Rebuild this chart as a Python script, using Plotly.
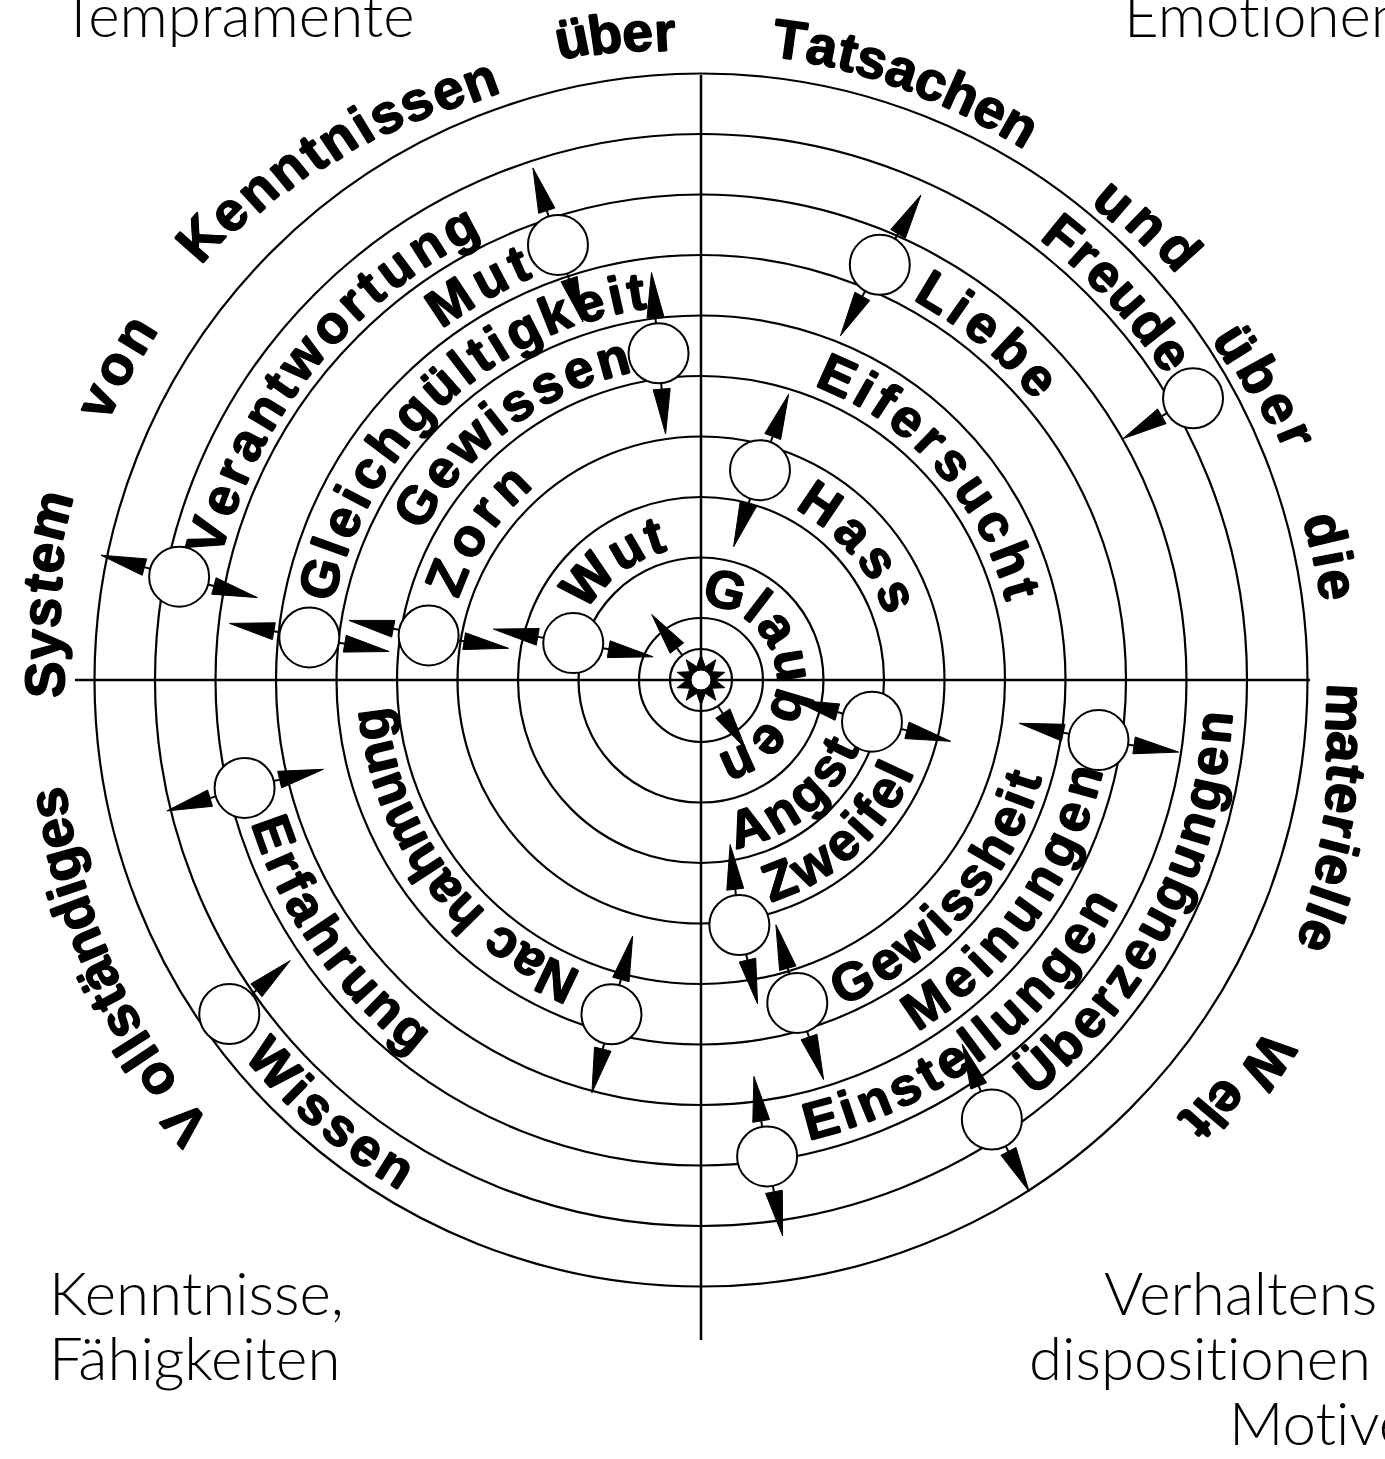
import math
import plotly.graph_objects as go

W, H = 1385, 1459
CX, CY = 701, 680

# ---------------- data ----------------
ring_radii = [31, 62, 122.5, 183, 243.5, 304, 364.5, 425, 485.5, 546, 606.5]
axis_h_extent = [-626, 609]
axis_v_extent = [-605, 660]

node_names = ["Mut", "Gewissen", "Liebe", "Freude", "Hass", "Verantwortung",
              "Gleichgültigkeit", "Zorn", "Wut", "Angst", "Meinungen", "Zweifel",
              "Gewissheit", "Nachahmung", "Einstellungen", "Überzeugungen",
              "Erfahrung", "Wissen"]
node_r = [458, 329.5, 452, 567, 218, 532, 394, 276, 133, 176, 402, 248,
          337, 346, 481, 527, 469, 578]
node_theta = [341.8, 352.6, 23.3, 60.2, 15.7, 281.2, 276.2, 279.3, 286.1, 103.7,
              98.6, 171.1, 163.4, 195, 172.1, 146.5, 256.7, 234.7]
node_arrows = [[-18, 162], [-5, 175], [30.5, 209], [240], [20.7, 199],
               [-74.6, 105], [-80, 100], [-79.3, 99.2], [-80, 99.7],
               [-74.5, 104], [-78, 98.5], [-6.6, 167], [-15.3, 161],
               [15.2, 194], [-9.4, 169], [-21.5, 152.6], [253.5, 76.7], [48.8]]
center_arrows = [-37, 147]

# curved labels: text, start radius, start bearing, end radius, end bearing, direction
label_text = ["Verantwortung", "Mut", "Gleichgültigkeit", "Gewissen", "Zorn", "Wut",
              "Liebe", "Eifersucht", "Hass", "Freude", "Glauben",
              "Angst", "Zweifel", "Gewissheit", "Meinungen", "Einstellungen",
              "Überzeugungen", "Nac hahmung", "Erfahrung", "Wissen"]
label_r0 = [514, 455, 394, 334, 274, 152, 454, 334, 214, 574, 94,
            154, 214, 336, 394, 454, 514, 334, 454, 574]
label_t0 = [286.3, 326.4, 284.9, 301.7, 291.9, 311.4, 31.1, 24.2, 34.2, 39.1, 14.8,
            162.4, 158.7, 153.3, 145.4, 164.8, 139.4, 205.6, 250.2, 228.1]
label_r1 = label_r0
label_t1 = [331.9, 336.3, 350.5, 344.5, 315.6, 341.8, 48.2, 74.2, 66.5, 55.2, 156,
            116, 115, 107.4, 105, 120, 95.3, 262.3, 219.5, 212.1]
label_dir = ["cw"] * 11 + ["ccw"] * 6 + ["cw", "ccw", "ccw"]

outer_text = ["V ollständiges", "System", "von", "Kenntnissen", "über", "Tatsachen",
              "und", "über", "die", "materielle", "W elt"]
outer_r0 = [680, 656, 666, 668, 655, 646, 634, 632, 642, 645, 684]
outer_t0 = [229.3, 270, 294.8, 311.4, 348.6, 7.9, 40.8, 57.8, 76.5, 92.5, 123.9]
outer_r1 = [664, 672, 664, 639, 649, 640, 644, 645, 644, 669, 665]
outer_t1 = [259.3, 284.2, 301.4, 339.8, 356.8, 29.9, 48.1, 67.6, 81.5, 112.6, 131.8]

corner_text = ["Tempramente", "Emotionen", "Kenntnisse,", "Fähigkeiten",
               "Verhaltens", "dispositionen", "Motive"]
corner_x = [59, 1122, 47, 47, 1102, 1027, 1227]
corner_baseline = [34, 34, 1312, 1377, 1312, 1377, 1442]

# ---------------- helpers ----------------
WIDTHS = {' ': 278, 'a': 556, 'b': 611, 'c': 556, 'd': 611, 'e': 556, 'f': 333,
          'g': 611, 'h': 611, 'i': 278, 'k': 556, 'l': 278, 'm': 889, 'n': 611,
          'o': 611, 'r': 389, 's': 556, 't': 333, 'u': 611, 'w': 778, 'z': 500,
          'ü': 611, 'ä': 556, 'y': 556, 'A': 722, 'E': 667, 'F': 611, 'G': 778,
          'H': 722, 'K': 722, 'L': 611, 'M': 833, 'N': 722, 'S': 667, 'T': 611,
          'V': 667, 'W': 944, 'Z': 611, 'Ü': 722}
TRACK = 70
LABEL_FONT = "Liberation Sans"
HEAVY = ("0.8px 0px 0px black, -0.8px 0px 0px black, "
         "0px 0.8px 0px black, 0px -0.8px 0px black")


def pol(r, th):
    a = math.radians(th)
    return CX + r * math.sin(a), CY - r * math.cos(a)


def norm(a):
    return (a + 180) % 360 - 180


annotations = []


def arc_text(text, r0, t0, r1, t1, direction, size):
    ws = [WIDTHS.get(c, 556) + TRACK for c in text]
    centers, acc = [], 0
    for w in ws:
        centers.append(acc + w / 2)
        acc += w
    a, b = centers[0], centers[-1]
    for c, s in zip(text, centers):
        if c == ' ':
            continue
        f = (s - a) / (b - a) if b > a else 0
        th = t0 + (t1 - t0) * f
        r = r0 + (r1 - r0) * f
        x, y = pol(r, th)
        ang = th if direction == "cw" else th - 180
        annotations.append(dict(
            x=x, y=y, xref="x", yref="y", text="<b>%s</b>" % c, showarrow=False,
            textangle=norm(ang), xanchor="center", yanchor="middle",
            font=dict(family=LABEL_FONT, size=size, color="black", shadow=HEAVY)))


for i in range(len(label_text)):
    arc_text(label_text[i], label_r0[i], label_t0[i], label_r1[i], label_t1[i],
             label_dir[i], 53)
for i in range(len(outer_text)):
    arc_text(outer_text[i], outer_r0[i], outer_t0[i], outer_r1[i], outer_t1[i],
             "cw", 55)

CORNER_SIZE = 60
for t, x, yb in zip(corner_text, corner_x, corner_baseline):
    shown = t.replace("ti", "t\u200ci")  # avoid the 'ti' ligature
    annotations.append(dict(
        x=x, y=yb - 0.33 * CORNER_SIZE, xref="x", yref="y", text=shown, showarrow=False,
        xanchor="left", yanchor="middle",
        font=dict(family="Lato", weight=300, size=CORNER_SIZE, color="black")))

shapes = []
LW = 2.2
for r in ring_radii:
    shapes.append(dict(type="circle", xref="x", yref="y", x0=CX - r, x1=CX + r,
                       y0=CY - r, y1=CY + r, line=dict(color="black", width=LW),
                       layer="below"))
shapes.append(dict(type="line", xref="x", yref="y", x0=CX + axis_h_extent[0],
                   x1=CX + axis_h_extent[1], y0=CY, y1=CY,
                   line=dict(color="black", width=2.5), layer="below"))
shapes.append(dict(type="line", xref="x", yref="y", x0=CX, x1=CX,
                   y0=CY + axis_v_extent[0], y1=CY + axis_v_extent[1],
                   line=dict(color="black", width=2.5), layer="below"))


def arrow(px, py, phi, d0=36, d1=81, hw=8.5, stem0=29):
    ux, uy = math.sin(math.radians(phi)), -math.cos(math.radians(phi))
    nx, ny = -uy, ux
    bx, by = px + d0 * ux, py + d0 * uy
    tx, ty = px + d1 * ux, py + d1 * uy
    path = "M %.1f,%.1f L %.1f,%.1f L %.1f,%.1f Z" % (
        bx + hw * nx, by + hw * ny, bx - hw * nx, by - hw * ny, tx, ty)
    shapes.append(dict(type="path", xref="x", yref="y", path=path,
                       fillcolor="black", line=dict(color="black", width=1),
                       layer="below"))
    shapes.append(dict(type="line", xref="x", yref="y",
                       x0=px + stem0 * ux, y0=py + stem0 * uy, x1=bx, y1=by,
                       line=dict(color="black", width=2), layer="below"))


node_x, node_y = [], []
for r, th, arrs in zip(node_r, node_theta, node_arrows):
    x, y = pol(r, th)
    node_x.append(x)
    node_y.append(y)
    for phi in arrs:
        arrow(x, y, phi)
for phi in center_arrows:
    arrow(CX, CY, phi, d0=40, d1=82, stem0=31)

# sun in the centre
pts = []
NPT = 10
for k in range(2 * NPT):
    rr = 25 if k % 2 == 0 else 14
    a = math.pi * k / NPT
    pts.append((CX + rr * math.sin(a), CY - rr * math.cos(a)))
sun_path = "M " + " L ".join("%.1f,%.1f" % p for p in pts) + " Z"
shapes.append(dict(type="path", xref="x", yref="y", path=sun_path,
                   fillcolor="black", line=dict(color="black", width=1), layer="below"))
shapes.append(dict(type="circle", xref="x", yref="y", x0=CX - 10, x1=CX + 10,
                   y0=CY - 10, y1=CY + 10, fillcolor="white",
                   line=dict(color="black", width=1), layer="below"))

fig = go.Figure()
fig.add_trace(go.Scatter(
    x=node_x, y=node_y, mode="markers", text=node_names, hoverinfo="text",
    marker=dict(size=60, color="white", line=dict(color="black", width=2)),
    showlegend=False))

fig.update_layout(
    width=W, height=H, margin=dict(l=0, r=0, t=0, b=0),
    paper_bgcolor="white", plot_bgcolor="white",
    xaxis=dict(range=[0, W], visible=False, fixedrange=True),
    yaxis=dict(range=[H, 0], visible=False, fixedrange=True),
    shapes=shapes, annotations=annotations, showlegend=False)

fig.write_html("out.html", config={"displayModeBar": False},
               post_script="document.body.style.margin='0';document.body.style.overflow='hidden';")
